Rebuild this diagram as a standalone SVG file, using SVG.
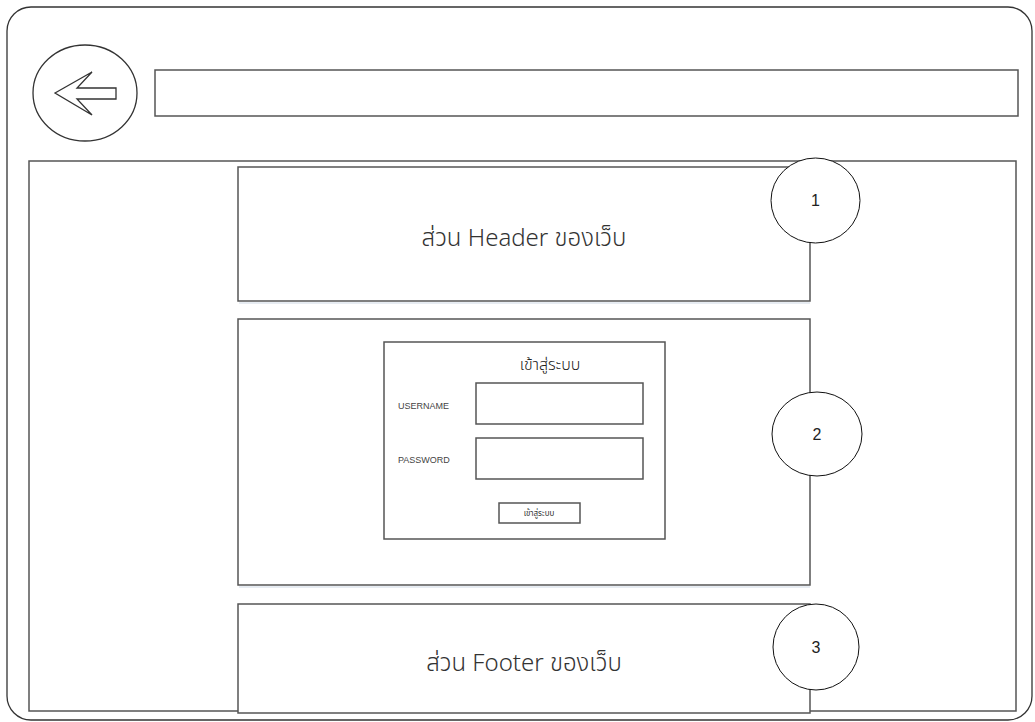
<svg xmlns="http://www.w3.org/2000/svg" width="1035" height="722" viewBox="0 0 1035 722">
  <style>
    .frame { fill: none; stroke: #333; stroke-width: 1.3; }
    .box { fill: #fff; stroke: #555; stroke-width: 1.5; }
    .shadow { fill: none; stroke: #dfe6ee; stroke-width: 1.5; }
    .badge { fill: #fff; stroke: #111; stroke-width: 1; }
    .num { font-family: "Liberation Sans", Arial, sans-serif; font-size: 16px; fill: #222; text-anchor: middle; }
    .big { font-family: "Noto Sans", "Noto Sans Thai", "Leelawadee UI", "Liberation Sans", sans-serif; font-size: 24px; font-weight: 300; fill: #333; text-anchor: middle; }
    .title { font-family: "Noto Sans", "Noto Sans Thai", "Liberation Sans", sans-serif; font-size: 16px; font-weight: 300; fill: #222; text-anchor: middle; }
    .lbl { font-family: "Liberation Sans Narrow", "Liberation Sans", Arial, sans-serif; font-size: 9px; fill: #444; }
    .btn { font-family: "Noto Sans", "Noto Sans Thai", "Liberation Sans", sans-serif; font-size: 8px; fill: #333; text-anchor: middle; }
  </style>

  <rect width="1035" height="722" fill="#fff"/>

  <!-- browser window frame -->
  <g id="window">
    <rect class="frame" x="7" y="7" width="1025" height="713" rx="24" ry="24"/>
  </g>

  <!-- back button -->
  <g id="back-button">
    <ellipse class="frame" cx="85" cy="93" rx="52" ry="48" stroke-width="1"/>
    <path class="frame" stroke-width="1" d="M55,93 L92,72 L77,88 L116,88 L116,99 L77,99 L92,115 Z"/>
  </g>

  <!-- address bar -->
  <g id="address-bar">
    <rect class="box" x="155" y="70" width="863" height="46"/>
  </g>

  <!-- page viewport -->
  <g id="viewport">
    <rect class="box" x="29" y="161" width="987" height="550"/>
  </g>

  <!-- header section -->
  <g id="header">
    <line class="shadow" x1="239" y1="303" x2="810" y2="303"/>
    <rect class="box" x="238" y="167" width="572" height="134"/>
    <text class="big" x="524" y="246">ส่วน Header ของเว็บ</text>
  </g>

  <!-- content section with login form -->
  <g id="content">
    <line class="shadow" x1="239" y1="587" x2="810" y2="587"/>
    <rect class="box" x="238" y="319" width="572" height="266"/>
    <g id="login-form">
      <rect class="box" x="384" y="342" width="281" height="197" stroke-width="1.2"/>
      <text class="title" x="550" y="370">เข้าสู่ระบบ</text>
      <text class="lbl" x="398" y="409">USERNAME</text>
      <rect class="box" x="476" y="383" width="167" height="41" stroke-width="1.2"/>
      <text class="lbl" x="398" y="463">PASSWORD</text>
      <rect class="box" x="476" y="438" width="167" height="41" stroke-width="1.2"/>
      <rect class="box" x="499" y="503" width="81" height="20" stroke-width="1.2"/>
      <text class="btn" x="539" y="516">เข้าสู่ระบบ</text>
    </g>
  </g>

  <!-- footer section -->
  <g id="footer">
    <rect class="box" x="238" y="604" width="572" height="109"/>
    <text class="big" x="524" y="671">ส่วน Footer ของเว็บ</text>
  </g>

  <!-- numbered callouts -->
  <g id="callout-1">
    <ellipse class="badge" cx="815.5" cy="200.5" rx="44.5" ry="42.5"/>
    <text class="num" x="815.5" y="206">1</text>
  </g>
  <g id="callout-2">
    <ellipse class="badge" cx="817" cy="434" rx="45" ry="42"/>
    <text class="num" x="817" y="440">2</text>
  </g>
  <g id="callout-3">
    <ellipse class="badge" cx="816" cy="647" rx="43" ry="43"/>
    <text class="num" x="816" y="653">3</text>
  </g>
</svg>
